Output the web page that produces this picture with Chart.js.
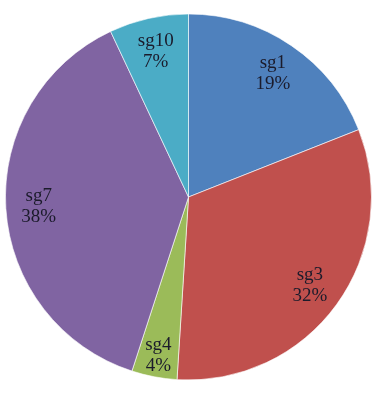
<!DOCTYPE html>
<html>
<head>
<meta charset="utf-8">
<script src="https://cdn.jsdelivr.net/npm/chart.js@4/dist/chart.umd.min.js"></script>
<style>
  html, body { margin: 0; padding: 0; background: #fff; }
  #wrap { width: 381px; height: 402px; position: relative; }
</style>
</head>
<body>
<div id="wrap"><canvas id="pie"></canvas></div>
<script>
  // Datos del gráfico
  const labels = ['sg1', 'sg3', 'sg4', 'sg7', 'sg10'];
  const values = [19, 32, 4, 38, 7];
  const colors = ['#4F81BD', '#C0504D', '#9BBB59', '#8064A2', '#4BACC6'];

  // Etiquetas dentro de cada porción
  const sliceLabels = {
      id: 'sliceLabels',
      afterDatasetsDraw(chart) {
          const ctx = chart.ctx;
          const meta = chart.getDatasetMeta(0);
          const total = values.reduce((a, b) => a + b, 0);
          ctx.save();
          ctx.font = '19px "Liberation Serif", "Times New Roman", serif';
          ctx.fillStyle = '#1b1b2b';
          ctx.textAlign = 'center';
          ctx.textBaseline = 'middle';
          meta.data.forEach((arc, i) => {
              const mid = (arc.startAngle + arc.endAngle) / 2;
              const frac = values[i] / total < 0.05 ? 0.88 : 0.82;
              const r = arc.outerRadius * frac;
              const x = arc.x + Math.cos(mid) * r;
              const y = arc.y + Math.sin(mid) * r;
              const pct = Math.round(values[i] / total * 100) + '%';
              ctx.fillText(labels[i], x, y - 10);
              ctx.fillText(pct, x, y + 11);
          });
          ctx.restore();
      }
  };

  new Chart(document.getElementById('pie').getContext('2d'), {
      type: 'pie',
      data: {
          labels: labels,
          datasets: [{
              data: values,
              backgroundColor: colors,
              borderColor: 'rgba(255,255,255,0.6)',
              borderWidth: 1
          }]
      },
      options: {
          responsive: true,
          maintainAspectRatio: false,
          animation: false,
          layout: { padding: { left: 5, right: 9, top: 11, bottom: 19 } },
          plugins: {
              legend: { display: false },
              tooltip: { enabled: false }
          }
      },
      plugins: [sliceLabels]
  });
</script>
</body>
</html>
